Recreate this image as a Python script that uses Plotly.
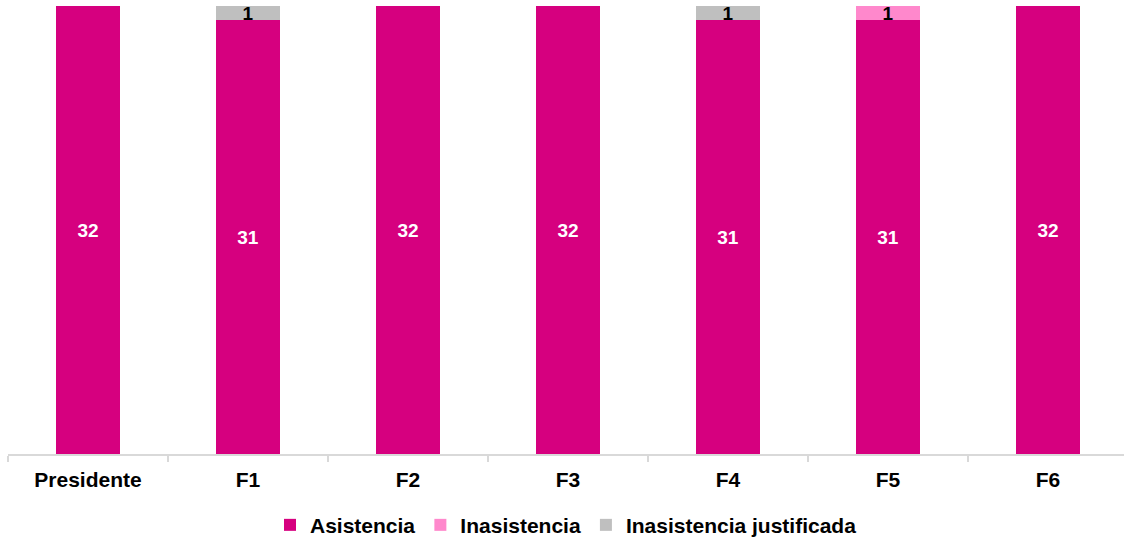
import plotly.graph_objects as go

categories = ["Presidente", "F1", "F2", "F3", "F4", "F5", "F6"]
asistencia = [32, 31, 32, 32, 31, 31, 32]
inasistencia = [0, 0, 0, 0, 0, 1, 0]
justificada = [0, 1, 0, 0, 1, 0, 0]

def labels(vals):
    return [str(v) if v else "" for v in vals]

FONT = "Liberation Sans, Arial, sans-serif"

fig = go.Figure()
series = [
    ("Asistencia", asistencia, "#D6007F", "white"),
    ("Inasistencia", inasistencia, "#FF88CC", "black"),
    ("Inasistencia justificada", justificada, "#BFBFBF", "black"),
]
for name, vals, color, tcolor in series:
    fig.add_trace(go.Bar(
        x=categories, y=vals, name=f"<b>{name}</b>",
        marker=dict(color=color, line=dict(width=0)),
        text=labels(vals), texttemplate="<b>%{text}</b>",
        textposition="inside", insidetextanchor="middle", textangle=0,
        textfont=dict(color=tcolor, size=19, family=FONT), width=0.4,
    ))

fig.update_layout(
    width=1124, height=542,
    barmode="stack",
    plot_bgcolor="white", paper_bgcolor="white",
    margin=dict(l=8, r=0, t=6, b=88, autoexpand=False),
    font=dict(family=FONT, size=19, color="black"),
    uniformtext=dict(mode="show", minsize=19),
    showlegend=True,
    legend=dict(orientation="h", x=0.5, xanchor="center",
                yref="container", y=0.031, yanchor="middle",
                font=dict(size=21, family=FONT, color="black"), traceorder="normal",
                itemwidth=30),
)
fig.update_xaxes(
    range=[-0.5, 6.475], showline=True, linecolor="#D9D9D9", linewidth=2,
    ticks="outside", tickson="boundaries", ticklen=6, tickcolor="#D9D9D9", tickwidth=2,
    tickfont=dict(size=21, family=FONT, color="black"), showgrid=False,
    tickvals=categories, ticktext=[f"<b>{c}</b>" for c in categories],
    ticklabelstandoff=6, automargin=False,
)
fig.update_yaxes(range=[0, 32], visible=False, showgrid=False)

fig.write_html("out.html", config={"displayModeBar": False},
               post_script="document.body.style.margin='0px';")
